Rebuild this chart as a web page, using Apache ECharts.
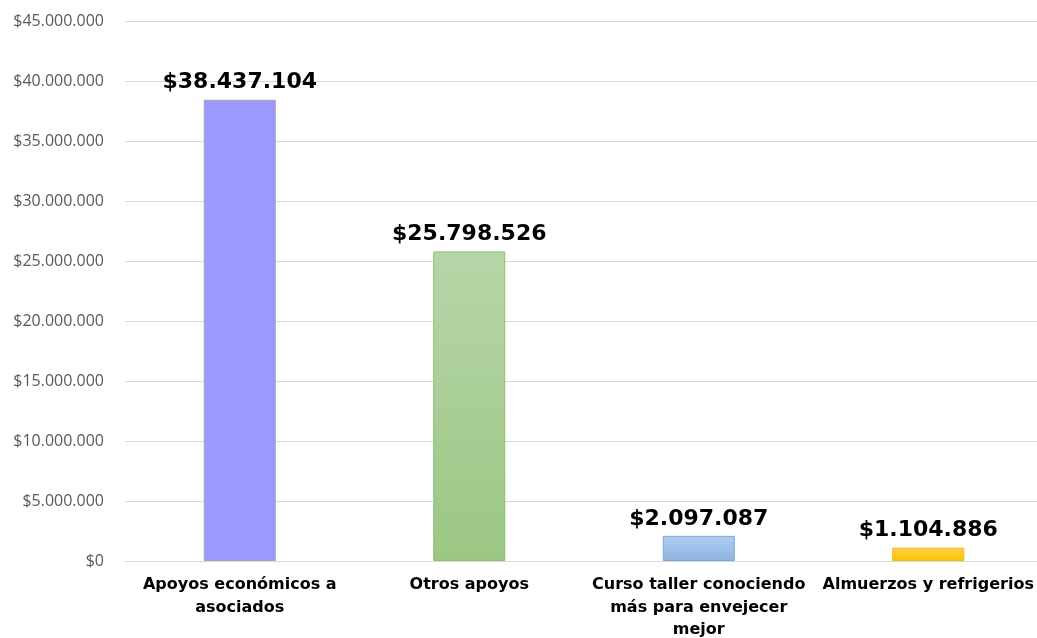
<!DOCTYPE html>
<html>
<head>
<meta charset="utf-8">
<script src="https://cdn.jsdelivr.net/npm/echarts@6/dist/echarts.min.js"></script>
<style>html,body{margin:0;padding:0;background:#fff}#c{width:1037px;height:638px}</style>
</head>
<body>
<div id="c"></div>
<script>
var categories = ['Apoyos económicos a\nasociados', 'Otros apoyos', 'Curso taller conociendo\nmás para envejecer\nmejor', 'Almuerzos y refrigerios'];
var values = [38437104, 25798526, 2097087, 1104886];
var yTicks = { min: 0, max: 45000000, interval: 5000000 };

function fmt(v) {
  return '$' + String(Math.round(v)).replace(/\B(?=(\d{3})+(?!\d))/g, '.');
}
function grad(top, bottom) {
  return new echarts.graphic.LinearGradient(0, 0, 0, 1, [{offset: 0, color: top}, {offset: 1, color: bottom}]);
}
var styles = [
  {color: '#9999FF', borderColor: '#A6A6A6', borderWidth: 1},
  {color: grad('#B7D6A8', '#9BC783'), borderColor: '#8CBF70', borderWidth: 1},
  {color: grad('#B0CDF0', '#8DB4E2'), borderColor: '#7BA7DC', borderWidth: 1},
  {color: grad('#FFD24D', '#FFC000'), borderColor: '#F5BA00', borderWidth: 1}
];

var chart = echarts.init(document.getElementById('c'));
chart.setOption({
  animation: false,
  grid: {left: 125, width: 918, top: 21, bottom: 77, containLabel: false, outerBoundsMode: 'none'},
  xAxis: {
    type: 'category',
    data: categories,
    axisTick: {show: false},
    axisLine: {show: true, lineStyle: {color: '#D9D9D9', width: 1}},
    axisLabel: {
      interval: 0, margin: 13,
      fontFamily: 'DejaVu Sans', fontWeight: 'bold', fontSize: 16, lineHeight: 22.5,
      color: '#000', align: 'center', verticalAlign: 'top'
    }
  },
  yAxis: {
    type: 'value',
    min: yTicks.min, max: yTicks.max, interval: yTicks.interval,
    axisLine: {show: false},
    axisTick: {show: false},
    splitLine: {lineStyle: {color: '#D9D9D9', width: 1}},
    axisLabel: {
      margin: 21, fontFamily: 'Open Sans', fontSize: 16, color: '#595959',
      formatter: function (v) { return fmt(v); }
    }
  },
  series: [{
    type: 'bar',
    barWidth: 72,
    data: values.map(function (v, i) { return {value: v, itemStyle: styles[i]}; }),
    label: {
      show: true, position: 'top', distance: 6,
      fontFamily: 'DejaVu Sans', fontWeight: 'bold', fontSize: 22, color: '#000',
      formatter: function (p) { return fmt(p.value); }
    }
  }]
});
</script>
</body>
</html>
